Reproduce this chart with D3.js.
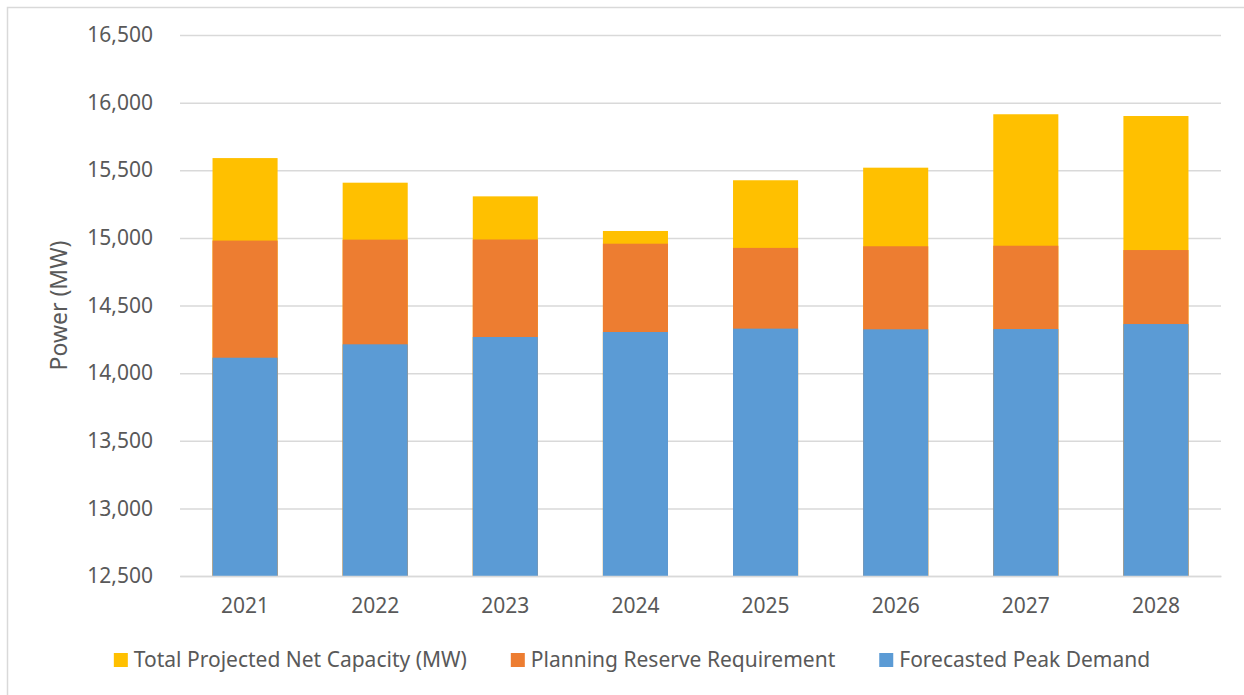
<!DOCTYPE html>
<html>
<head>
<meta charset="utf-8">
<script src="https://cdn.jsdelivr.net/npm/d3@7"></script>
<style>
  body { margin: 0; background: #fff; }
  text { font-family: "Noto Sans", sans-serif; fill: #595959; }
</style>
</head>
<body>
<div id="chart"></div>
<script>
// values, in MW
var years = ['2021', '2022', '2023', '2024', '2025', '2026', '2027', '2028'];
var netCapacity = [15590, 15408, 15307, 15051, 15426, 15519, 15914, 15901];
var reserveRequirement = [14980, 14987, 14988, 14957, 14926, 14938, 14942, 14910];
var peakDemand = [14114, 14213, 14267, 14304, 14329, 14324, 14326, 14363];
var yTicks = [12500, 13000, 13500, 14000, 14500, 15000, 15500, 16000, 16500];

var series = [
  {name: 'Total Projected Net Capacity (MW)', values: netCapacity, color: '#FFC000'},
  {name: 'Planning Reserve Requirement', values: reserveRequirement, color: '#ED7D31'},
  {name: 'Forecasted Peak Demand', values: peakDemand, color: '#5B9BD5'}
];

var width = 1244,
    height = 695,
    margin = {top: 35, right: 23, bottom: 119, left: 180},
    chartWidth = width - margin.left - margin.right,
    chartHeight = height - margin.top - margin.bottom;

var svg = d3.select('#chart').append('svg')
  .attr('width', width)
  .attr('height', height);

// outer frame
svg.append('rect')
  .attr('x', 7.5).attr('y', 7.5)
  .attr('width', width + 10).attr('height', height + 10)
  .attr('fill', 'none')
  .attr('stroke', '#d9d9d9')
  .attr('stroke-width', 1.5);

var chart = svg.append('g')
  .attr('transform', 'translate(' + margin.left + ',' + margin.top + ')');

var x = d3.scaleBand()
  .domain(years)
  .range([0, chartWidth])
  .paddingInner(0.5)
  .paddingOuter(0.25);

var y = d3.scaleLinear()
  .domain([12500, 16500])
  .range([chartHeight, 0]);

// gridlines
chart.append('g')
  .attr('class', 'grid')
  .call(d3.axisLeft(y).tickValues(yTicks).tickSize(-chartWidth).tickFormat(''))
  .call(function(g) {
    g.select('.domain').remove();
    g.selectAll('line').attr('stroke', '#d9d9d9').attr('stroke-width', 1.5);
  });

// y tick labels
chart.append('g')
  .attr('class', 'yAxis')
  .call(d3.axisLeft(y).tickValues(yTicks).tickSize(0).tickPadding(27).tickFormat(d3.format(',')))
  .call(function(g) {
    g.select('.domain').remove();
    g.selectAll('text').style('font-size', '21px').attr('fill', '#595959');
  });

// bars: tallest first so the lower series sit on top
series.forEach(function(s) {
  chart.append('g')
    .selectAll('rect')
    .data(s.values)
    .enter().append('rect')
      .attr('x', function(d, i) { return x(years[i]); })
      .attr('y', function(d) { return y(d); })
      .attr('width', x.bandwidth())
      .attr('height', function(d) { return chartHeight - y(d); })
      .attr('fill', s.color);
});

// x axis line and labels
chart.append('g')
  .attr('class', 'xAxis')
  .attr('transform', 'translate(0,' + chartHeight + ')')
  .call(d3.axisBottom(x).tickSize(0).tickPadding(22))
  .call(function(g) {
    g.select('.domain').attr('stroke', '#d9d9d9').attr('stroke-width', 1.5);
    g.selectAll('text').style('font-size', '21px').attr('fill', '#595959');
  });

// y axis title
svg.append('text')
  .attr('transform', 'translate(67,' + (margin.top + chartHeight / 2) + ') rotate(-90)')
  .attr('text-anchor', 'middle')
  .style('font-size', '23px')
  .text('Power (MW)');

// legend
var legendGap = 44;
var legend = svg.append('g').attr('class', 'legend');
var items = legend.selectAll('g')
  .data(series)
  .enter().append('g');

items.append('rect')
  .attr('width', 14).attr('height', 14)
  .attr('y', -7)
  .attr('fill', function(d) { return d.color; });

items.append('text')
  .attr('x', 20)
  .attr('dy', '0.35em')
  .style('font-size', '21px')
  .text(function(d) { return d.name; });

var offset = 0;
items.each(function() {
  var w = 20 + this.querySelector('text').getComputedTextLength();
  d3.select(this).attr('data-x', offset);
  offset += w + legendGap;
});
var totalWidth = offset - legendGap;
var legendStart = width / 2 + 10 - totalWidth / 2;
items.attr('transform', function() {
  return 'translate(' + (legendStart + +this.getAttribute('data-x')) + ',660)';
});
</script>
</body>
</html>
